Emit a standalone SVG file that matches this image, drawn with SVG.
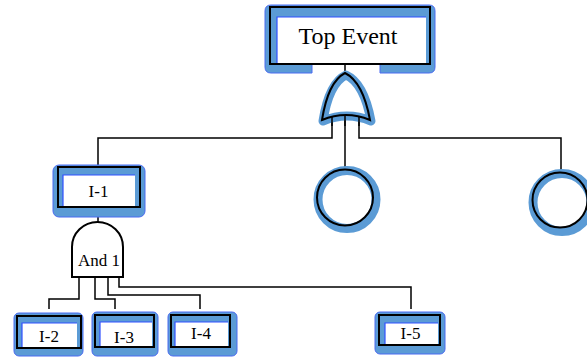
<svg xmlns="http://www.w3.org/2000/svg" width="587" height="358" viewBox="0 0 587 358">
  <style>
    .shade { fill: #5b9bd5; stroke: #4a6af0; stroke-width: 1; }
    .inner { fill: #ffffff; }
    .edge { fill: none; stroke: #3050ff; stroke-width: 1.2; }
    .frame { fill: none; stroke: #000000; stroke-width: 2; }
    .ring { fill: none; stroke: #5b9bd5; stroke-width: 9; }
    .gate-fill { fill: #ffffff; stroke: none; }
    .gate-shade { fill: none; stroke: #5b9bd5; stroke-width: 9; stroke-linejoin: round; }
    .gate { fill: none; stroke: #000000; stroke-width: 2; }
    .and { fill: #ffffff; stroke: #000000; stroke-width: 2; }
    .wire { fill: none; stroke: #000000; stroke-width: 1.5; }
    .label { font-family: "Liberation Serif", "Times New Roman", serif; fill: #000000; text-anchor: middle; }
  </style>

  <!-- connectors -->
  <g id="connectors">
    <path class="wire" d="M345,64 V73"/>
    <path class="wire" d="M345,115 V169.5"/>
    <path class="wire" d="M332,117 V138 H98 V166"/>
    <path class="wire" d="M359,117 V138 H561 V172.5"/>
    <path class="wire" d="M98,207 V223"/>
    <path class="wire" d="M79,277 V299 H49 V309"/>
    <path class="wire" d="M95,277 V299 H115 V309"/>
    <path class="wire" d="M108,277 V295 H200 V309"/>
    <path class="wire" d="M119,277 V287 H411 V309"/>
  </g>

  <!-- top event -->
  <g id="top-event">
    <path class="shade" d="M271,5 H429 Q435,5 435,11 V67 Q435,73 429,73 H380 V64 H312 V73 H271 Q265,73 265,67 V11 Q265,5 271,5 Z"/>
    <rect class="inner" x="277" y="17" width="149" height="47"/>
    <path class="edge" d="M277,64 V17 H426"/>
    <rect class="frame" x="270" y="7" width="160" height="57"/>
    <text class="label" x="348" y="44" font-size="24">Top Event</text>
  </g>

  <!-- OR gate -->
  <g id="or-gate">
    <path class="gate-fill" d="M322,120 Q328,82 345,73 Q363,82 370,120 Q346,110 322,120 Z"/>
    <path class="gate-shade" d="M323,121 Q329,83 346,75 Q364,83 371,121 Q347,111 323,121 Z"/>
    <path class="gate" d="M322,120 Q328,82 345,73 Q363,82 370,120 Q346,110 322,120 Z"/>
    <path class="wire" d="M332,117 V126 M345,115 V126 M359,117 V126"/>
  </g>

  <!-- basic events -->
  <g id="basic-event-1">
    <circle class="ring" cx="347" cy="199.5" r="29"/>
    <circle fill="none" stroke="#000" stroke-width="2" cx="345" cy="197.5" r="28"/>
  </g>
  <g id="basic-event-2">
    <circle class="ring" cx="562" cy="202.5" r="29"/>
    <circle fill="none" stroke="#000" stroke-width="2" cx="560" cy="200" r="27.5"/>
  </g>

  <!-- intermediate event I-1 -->
  <g id="event-i1">
    <rect class="shade" x="53" y="165" width="92" height="52" rx="6"/>
    <rect class="inner" x="63" y="175" width="72" height="32"/>
    <path class="edge" d="M63,207 V175 H135"/>
    <rect class="frame" x="58" y="167" width="82" height="40"/>
    <text class="label" x="98.5" y="197" font-size="17">I-1</text>
  </g>

  <!-- AND gate -->
  <g id="and-gate">
    <path class="and" d="M72,277 V247 A25.5,25 0 0 1 123,247 V277 Z"/>
    <text class="label" x="99" y="266" font-size="17">And 1</text>
  </g>

  <!-- lower events -->
  <g id="event-i2">
    <rect class="shade" x="14" y="313" width="69" height="43" rx="5"/>
    <rect class="inner" x="22" y="323" width="55" height="25"/>
    <path class="edge" d="M22,348 V323 H77"/>
    <rect class="frame" x="17" y="316" width="64" height="32"/>
    <text class="label" x="49" y="342" font-size="17">I-2</text>
  </g>
  <g id="event-i3">
    <rect class="shade" x="92" y="312" width="66" height="44" rx="5"/>
    <rect class="inner" x="100" y="322" width="52" height="25"/>
    <path class="edge" d="M100,347 V322 H152"/>
    <rect class="frame" x="95" y="315" width="59" height="32"/>
    <text class="label" x="124" y="343" font-size="17">I-3</text>
  </g>
  <g id="event-i4">
    <rect class="shade" x="168" y="312" width="69" height="44" rx="5"/>
    <rect class="inner" x="175" y="322" width="53" height="25"/>
    <path class="edge" d="M175,347 V322 H228"/>
    <rect class="frame" x="171" y="315" width="59" height="32"/>
    <text class="label" x="201" y="339" font-size="17">I-4</text>
  </g>
  <g id="event-i5">
    <rect class="shade" x="375" y="312" width="70" height="42" rx="5"/>
    <rect class="inner" x="385" y="323" width="53" height="22"/>
    <path class="edge" d="M385,345 V323 H438"/>
    <rect class="frame" x="379" y="315" width="61" height="30"/>
    <text class="label" x="410.5" y="339" font-size="17">I-5</text>
  </g>
</svg>
